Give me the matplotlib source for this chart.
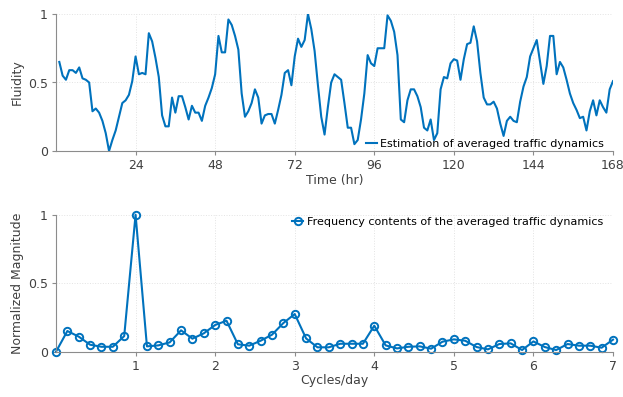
import matplotlib
matplotlib.use("Agg")
import matplotlib.pyplot as plt
import numpy as np
from matplotlib.ticker import FormatStrFormatter

# hourly averaged fluidity, hours 1..168
hours = list(range(1, 169))
fluidity = [
    0.65, 0.55, 0.52, 0.59, 0.59, 0.57, 0.61, 0.53, 0.52, 0.50,
    0.29, 0.31, 0.28, 0.22, 0.13, 0.00, 0.08, 0.15, 0.25, 0.35,
    0.37, 0.41, 0.51, 0.69, 0.56, 0.57, 0.56, 0.86, 0.80, 0.68,
    0.54, 0.26, 0.18, 0.18, 0.39, 0.28, 0.40, 0.40, 0.32, 0.23,
    0.33, 0.28, 0.28, 0.22, 0.33, 0.39, 0.46, 0.56, 0.84, 0.72,
    0.72, 0.96, 0.92, 0.84, 0.74, 0.42, 0.25, 0.29, 0.35, 0.45,
    0.39, 0.20, 0.26, 0.27, 0.27, 0.20, 0.30, 0.41, 0.57, 0.59,
    0.48, 0.69, 0.82, 0.76, 0.81, 1.00, 0.89, 0.73, 0.48, 0.25,
    0.12, 0.32, 0.50, 0.56, 0.54, 0.52, 0.35, 0.17, 0.17, 0.05,
    0.08, 0.23, 0.42, 0.70, 0.64, 0.62, 0.75, 0.75, 0.75, 0.99,
    0.95, 0.87, 0.70, 0.23, 0.21, 0.37, 0.45, 0.45, 0.40, 0.32,
    0.17, 0.15, 0.23, 0.08, 0.13, 0.45, 0.54, 0.53, 0.64, 0.67,
    0.66, 0.52, 0.67, 0.78, 0.79, 0.91, 0.80, 0.57, 0.39, 0.34,
    0.34, 0.36, 0.31, 0.20, 0.11, 0.22, 0.25, 0.22, 0.21, 0.36,
    0.47, 0.54, 0.69, 0.75, 0.81, 0.65, 0.49, 0.62, 0.84, 0.84,
    0.56, 0.65, 0.61, 0.52, 0.42, 0.35, 0.30, 0.24, 0.25, 0.15,
    0.29, 0.37, 0.26, 0.37, 0.32, 0.28, 0.45, 0.51,
]

# spectrum bins, 1/7 cycle/day apart
freq_bin = list(range(50))
magnitude = [
    0.0, 0.151, 0.11, 0.051, 0.036, 0.036, 0.114, 1.0, 0.039, 0.046,
    0.068, 0.156, 0.095, 0.134, 0.195, 0.226, 0.054, 0.044, 0.08, 0.124,
    0.209, 0.275, 0.097, 0.032, 0.032, 0.058, 0.058, 0.058, 0.19, 0.046,
    0.024, 0.036, 0.039, 0.022, 0.073, 0.09, 0.08, 0.034, 0.017, 0.056,
    0.061, 0.012, 0.075, 0.034, 0.012, 0.056, 0.044, 0.044, 0.029, 0.088,
]

BLUE = "#0072BD"
TXT = "#404040"
W, H = 623, 397

plt.rcParams["font.family"] = "DejaVu Sans"
plt.rcParams["font.size"] = 9

fig = plt.figure(figsize=(W / 100, H / 100), dpi=100)
ax1 = fig.add_axes([56 / W, 1 - 151 / H, 557 / W, 137 / H])
ax2 = fig.add_axes([56 / W, 1 - 351.7 / H, 557 / W, 137 / H])


def style(ax):
    for s in ("top", "right"):
        ax.spines[s].set_visible(False)
    for s in ("left", "bottom"):
        ax.spines[s].set_color("#8c8c8c")
        ax.spines[s].set_linewidth(0.8)
    ax.grid(True, ls=":", color="#e3e3e3", lw=0.7)
    ax.tick_params(colors="#8c8c8c", labelcolor=TXT, length=3, width=0.8,
                   labelsize=9, pad=3)
    ax.set_ylim(0, 1)
    ax.set_yticks([0, 0.5, 1])
    ax.yaxis.set_major_formatter(FormatStrFormatter("%g"))


ax1.plot(hours, fluidity, color=BLUE, lw=1.5,
         label="Estimation of averaged traffic dynamics")
style(ax1)
ax1.set_xlim(0, 168)
ax1.set_xticks([24, 48, 72, 96, 120, 144, 168])
ax1.set_xlabel("Time (hr)", color=TXT, labelpad=1)
ax1.set_ylabel("Fluidity", color=TXT, labelpad=3)
ax1.legend(loc="center right", bbox_to_anchor=(0.984, 0.052), frameon=False,
           borderpad=0, borderaxespad=0, handlelength=1.0, handletextpad=0.3,
           fontsize=8)

freqs = np.array(freq_bin) / 7
ax2.plot(freqs, magnitude, color=BLUE, lw=1.5, marker="o", ms=5.3,
         mfc="none", mew=1.4, clip_on=False,
         label="Frequency contents of the averaged traffic dynamics")
style(ax2)
ax2.set_xlim(0, 7)
ax2.set_xticks(range(1, 8))
ax2.set_xlabel("Cycles/day", color=TXT, labelpad=1)
ax2.set_ylabel("Normalized Magnitude", color=TXT, labelpad=3)
ax2.legend(loc="center right", bbox_to_anchor=(0.982, 0.947), frameon=False,
           borderpad=0, borderaxespad=0, handlelength=1.0, handletextpad=0.3,
           fontsize=8)

fig.savefig("out.png", dpi=100)
